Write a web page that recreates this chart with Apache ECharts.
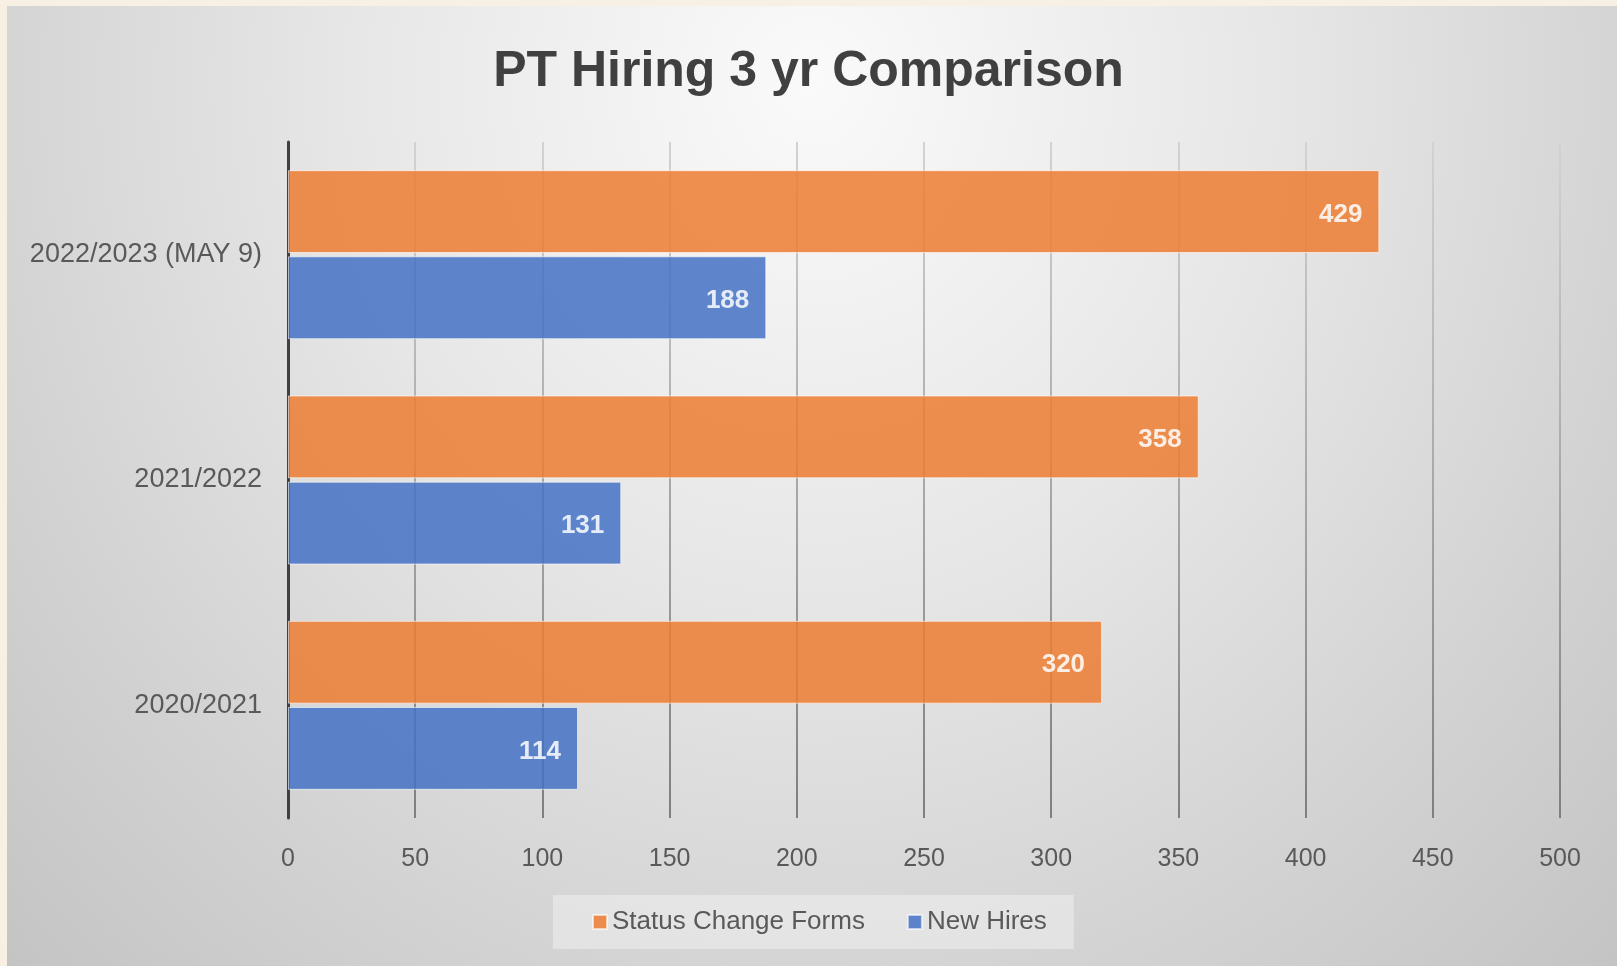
<!DOCTYPE html>
<html>
<head>
<meta charset="utf-8">
<script src="https://cdn.jsdelivr.net/npm/echarts@6/dist/echarts.min.js"></script>
<style>
  html, body { margin:0; padding:0; width:1617px; height:966px; background:#f8f1e3; overflow:hidden; }
  #bg { position:absolute; left:7px; top:6px; right:0; bottom:0;
        background: radial-gradient(ellipse farthest-corner at 50% 8%, #fafafa 0%, #e6e6e6 42%, #d2d2d2 75%, #c4c4c4 100%); }
  #chart { position:absolute; left:0; top:0; width:1617px; height:966px; }
</style>
</head>
<body>
<div id="bg"></div>
<div id="chart"></div>
<script>
const titleText = 'PT Hiring 3 yr Comparison';
const categories = ['2020/2021', '2021/2022', '2022/2023 (MAY 9)'];
const seriesNames = ['Status Change Forms', 'New Hires'];
const statusChangeForms = [320, 358, 429];
const newHires = [114, 131, 188];
const xTicks = { min: 0, max: 500, interval: 50 };

const FONT = '"Liberation Sans", Arial, sans-serif';
const chart = echarts.init(document.getElementById('chart'), null, { renderer: 'canvas' });

const labelStyle = {
  show: true, position: 'insideRight', distance: 17, offset: [0, 3],
  color: '#ffffff', fontWeight: 'bold', fontSize: 26, fontFamily: FONT
};

chart.setOption({
  backgroundColor: 'transparent',
  animation: false,
  title: {
    text: titleText, left: 'center', top: 42,
    textStyle: { fontFamily: FONT, fontSize: 50, fontWeight: 'bold', color: '#404040' }
  },
  legend: {
    data: seriesNames,
    left: 553, top: 895,
    padding: [14, 27, 14, 39],
    backgroundColor: 'rgba(255,255,255,0.35)',
    itemWidth: 14, itemHeight: 14, itemGap: 42,
    icon: 'rect',
    textStyle: { fontFamily: FONT, fontSize: 26, color: '#595959' }
  },
  grid: { left: 288, right: 57, top: 142, bottom: 148, containLabel: false },
  xAxis: {
    type: 'value', min: xTicks.min, max: xTicks.max, interval: xTicks.interval,
    axisLine: { show: false }, axisTick: { show: false },
    axisLabel: { margin: 29, fontFamily: FONT, fontSize: 25, color: '#595959' },
    splitLine: { show: true, lineStyle: { width: 2, color: {
      type: 'linear', x: 0, y: 142, x2: 0, y2: 818, global: true,
      colorStops: [{ offset: 0, color: '#d2d2d2' }, { offset: 1, color: '#7f7f7f' }]
    } } }
  },
  yAxis: {
    type: 'category', data: categories,
    axisLine: { show: true, lineStyle: { color: '#404040', width: 3 } },
    axisTick: { show: false },
    axisLabel: { margin: 26, padding: [5, 0, 0, 0], fontFamily: FONT, fontSize: 27, color: '#595959' },
    splitLine: { show: false }
  },
  series: [
    {
      name: seriesNames[0], type: 'bar', data: statusChangeForms,
      barCategoryGap: '25%', barGap: '4%',
      itemStyle: { color: '#ED7D31', opacity: 0.85, borderColor: 'rgba(255,255,255,0.7)', borderWidth: 1 },
      label: labelStyle
    },
    {
      name: seriesNames[1], type: 'bar', data: newHires,
      barCategoryGap: '25%', barGap: '4%',
      itemStyle: { color: '#4472C4', opacity: 0.85, borderColor: 'rgba(255,255,255,0.7)', borderWidth: 1 },
      label: labelStyle
    }
  ]
});
</script>
</body>
</html>
